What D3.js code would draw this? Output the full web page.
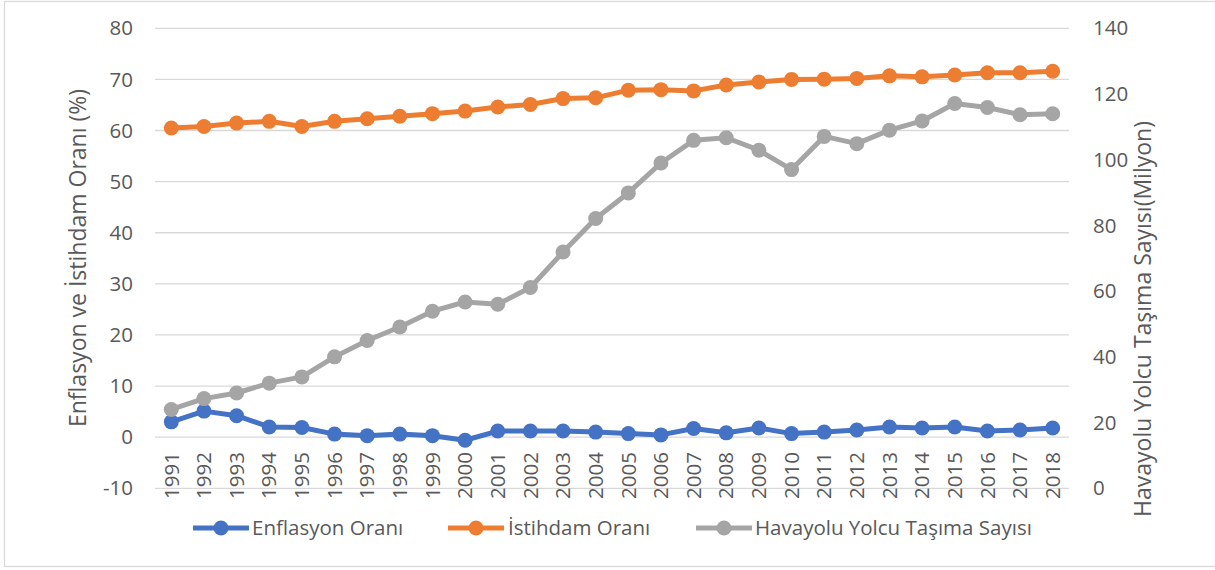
<!DOCTYPE html>
<html>
<head>
<meta charset="utf-8">
<script src="https://cdn.jsdelivr.net/npm/d3@7"></script>
<style>
  body { margin: 0; background: #fff; }
  text { font-family: "Open Sans", "Noto Sans", sans-serif; fill: #595959; }
</style>
</head>
<body>
<svg id="chart" width="1215" height="570"></svg>
<script>
// years on the category axis
var years = d3.range(1991, 2019).map(String);

// Enflasyon Orani (%), left axis
var enflasyon = [3.0, 5.1, 4.2, 2.0, 1.9, 0.6, 0.3, 0.6, 0.3, -0.6, 1.2, 1.2, 1.2, 1.0,
                 0.7, 0.45, 1.7, 0.85, 1.8, 0.7, 1.0, 1.4, 2.0, 1.8, 2.0, 1.2, 1.4, 1.8];

// Istihdam Orani (%), left axis
var istihdam = [60.5, 60.8, 61.45, 61.8, 60.8, 61.8, 62.3, 62.8, 63.3, 63.8, 64.6, 65.1, 66.25, 66.4,
                67.9, 68.0, 67.75, 68.9, 69.5, 70.0, 70.05, 70.2, 70.7, 70.5, 70.85, 71.3, 71.3, 71.6];

// Havayolu yolcu tasima sayisi (milyon), right axis
var yolcu = [24.0, 27.3, 29.0, 32.0, 33.9, 40.0, 45.0, 49.1, 53.9, 56.7, 56.0, 61.1, 71.9, 82.1,
             89.9, 99.0, 105.9, 106.7, 102.9, 97.0, 107.1, 104.9, 109.0, 111.8, 117.1, 115.9, 113.7, 114.0];

var leftTicks = [-10, 0, 10, 20, 30, 40, 50, 60, 70, 80];
var rightTicks = [0, 20, 40, 60, 80, 100, 120, 140];

var seriesNames = ['Enflasyon Oranı', 'İstihdam Oranı', 'Havayolu Yolcu Taşıma Sayısı'];
var seriesColors = ['#4472C4', '#ED7D31', '#A5A5A5'];

var svg = d3.select('#chart');

// outer frame
svg.append('rect')
    .attr('x', 4.5).attr('y', 1.5)
    .attr('width', 1213).attr('height', 565)
    .attr('fill', 'none')
    .attr('stroke', '#d9d9d9')
    .attr('stroke-width', 1.3);

var plotLeft = 155, plotRight = 1069, plotTop = 28.3, plotBottom = 488.3;
var tickSize = '20.5px', titleSize = '23px';

var x = d3.scaleBand().domain(years).range([plotLeft, plotRight]).padding(0);
var cx = function(d) { return x(d) + x.bandwidth() / 2; };
var yL = d3.scaleLinear().domain([-10, 80]).range([plotBottom, plotTop]);
var yR = d3.scaleLinear().domain([0, 140]).range([plotBottom, plotTop]);

// gridlines
svg.append('g').selectAll('line')
    .data(leftTicks)
    .join('line')
    .attr('x1', plotLeft).attr('x2', plotRight)
    .attr('y1', function(d) { return yL(d); })
    .attr('y2', function(d) { return yL(d); })
    .attr('stroke', '#d9d9d9')
    .attr('stroke-width', 1.3);

// left tick labels
svg.append('g').selectAll('text')
    .data(leftTicks)
    .join('text')
    .attr('x', 133)
    .attr('y', function(d) { return yL(d); })
    .attr('dy', '0.35em')
    .attr('text-anchor', 'end')
    .style('font-size', tickSize)
    .text(function(d) { return d; });

// right tick labels
svg.append('g').selectAll('text')
    .data(rightTicks)
    .join('text')
    .attr('x', 1093)
    .attr('y', function(d) { return yR(d); })
    .attr('dy', '0.35em')
    .attr('text-anchor', 'start')
    .style('font-size', tickSize)
    .text(function(d) { return d; });

// category labels, rotated
svg.append('g').selectAll('text')
    .data(years)
    .join('text')
    .attr('transform', function(d) { return 'translate(' + cx(d) + ',452) rotate(-90)'; })
    .attr('dy', '0.35em')
    .attr('text-anchor', 'end')
    .style('font-size', tickSize)
    .text(function(d) { return d; });

// axis titles
svg.append('text')
    .attr('transform', 'translate(78,258) rotate(-90)')
    .attr('dy', '0.35em')
    .attr('text-anchor', 'middle')
    .style('font-size', titleSize)
    .text('Enflasyon ve İstihdam Oranı (%)');

svg.append('text')
    .attr('transform', 'translate(1143,319) rotate(-90)')
    .attr('dy', '0.35em')
    .attr('text-anchor', 'middle')
    .style('font-size', titleSize)
    .text('Havayolu Yolcu Taşıma Sayısı(Milyon)');

// series
var series = [
    { values: enflasyon, y: yL, color: seriesColors[0] },
    { values: istihdam, y: yL, color: seriesColors[1] },
    { values: yolcu, y: yR, color: seriesColors[2] }
];

series.forEach(function(s) {
    var pts = years.map(function(yr, i) { return [cx(yr), s.y(s.values[i])]; });
    svg.append('path')
        .attr('d', d3.line()(pts))
        .attr('fill', 'none')
        .attr('stroke', s.color)
        .attr('stroke-width', 5)
        .attr('stroke-linejoin', 'round');
    svg.append('g').selectAll('circle')
        .data(pts)
        .join('circle')
        .attr('cx', function(p) { return p[0]; })
        .attr('cy', function(p) { return p[1]; })
        .attr('r', 7.5)
        .attr('fill', s.color);
});

// legend
var legendItems = [
    { x: 193, textX: 252 },
    { x: 448, textX: 508 },
    { x: 696, textX: 755 }
];
var legendY = 528;
var lg = svg.append('g');
legendItems.forEach(function(item, i) {
    lg.append('line')
        .attr('x1', item.x).attr('x2', item.x + 56)
        .attr('y1', legendY).attr('y2', legendY)
        .attr('stroke', seriesColors[i])
        .attr('stroke-width', 5);
    lg.append('circle')
        .attr('cx', item.x + 28).attr('cy', legendY)
        .attr('r', 7.5)
        .attr('fill', seriesColors[i]);
    lg.append('text')
        .attr('x', item.textX)
        .attr('y', legendY)
        .attr('dy', '0.35em')
        .style('font-size', tickSize)
        .text(seriesNames[i]);
});
</script>
</body>
</html>
